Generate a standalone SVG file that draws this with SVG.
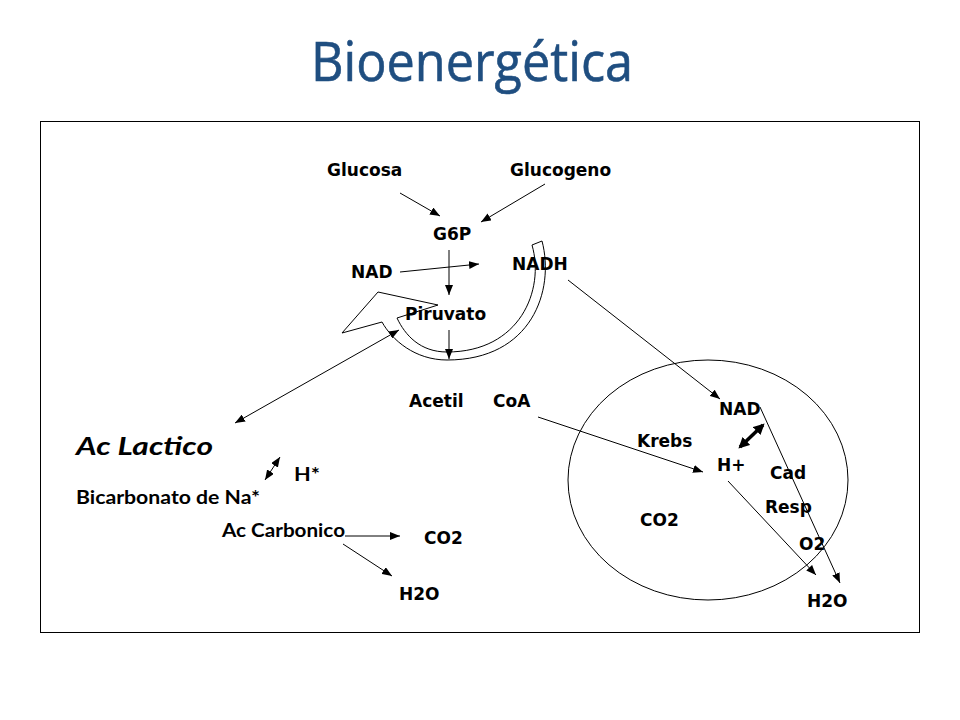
<svg xmlns="http://www.w3.org/2000/svg" width="960" height="720" viewBox="0 0 960 720">
<defs>
<marker id="a" viewBox="0 0 10 8" refX="10" refY="4" markerWidth="10" markerHeight="8" markerUnits="userSpaceOnUse" orient="auto-start-reverse"><path d="M0,0 L10,4 L0,8 Z" fill="#000"/></marker>
<marker id="b" viewBox="0 0 10 10" refX="8" refY="5" markerWidth="11" markerHeight="11" markerUnits="userSpaceOnUse" orient="auto-start-reverse"><path d="M0,0 L10,5 L0,10 Z" fill="#000"/></marker>
<style>
.v{font-family:"DejaVu Sans",Verdana,sans-serif;font-weight:bold;font-size:17px;fill:#000}
.c{font-family:Lato,"Open Sans",sans-serif;font-weight:bold;font-size:19px;fill:#000}
.l{stroke:#000;stroke-width:1;fill:none;marker-end:url(#a)}
.d{marker-start:url(#a)}
</style>
</defs>
<rect width="960" height="720" fill="#fff"/>
<text x="472" y="81" text-anchor="middle" font-family="'Open Sans',Lato,sans-serif" font-size="55" fill="#1F4E80" stroke="#1F4E80" stroke-width="0.6" textLength="322" lengthAdjust="spacingAndGlyphs">Bioenergética</text>
<rect x="40.5" y="121.5" width="879" height="511" fill="none" stroke="#000" stroke-width="1"/>
<g id="mito"><ellipse cx="708" cy="480" rx="140" ry="120" fill="none" stroke="#000" stroke-width="1"/></g>
<g id="curved-arrow"><path d="M342,333 L378,292 L438,305 L397,318 C405,335 420,352 447,352 C520,352 545,290 532,245 L542,241 C555,290 532,360 447,360 C415,360 392,340 382,322 Z" fill="#fff" stroke="#000" stroke-width="1"/></g>
<g id="connectors">
<line class="l" x1="400" y1="193" x2="440" y2="216"/>
<line class="l" x1="545" y1="184" x2="481" y2="222"/>
<line class="l" x1="449" y1="250" x2="449" y2="295"/>
<line class="l" x1="400" y1="272" x2="479" y2="264"/>
<line class="l" x1="449" y1="330" x2="449" y2="359"/>
<line class="l d" x1="235" y1="423" x2="399" y2="330"/>
<line class="l" x1="568" y1="280" x2="720" y2="399"/>
<line class="l" x1="538" y1="417" x2="703" y2="472"/>
<line x1="740" y1="447" x2="763" y2="425" stroke="#000" stroke-width="3.5" marker-start="url(#b)" marker-end="url(#b)"/>
<line class="l" x1="760" y1="407" x2="840" y2="583"/>
<line class="l" x1="728" y1="481" x2="816" y2="575"/>
<line class="l d" x1="265" y1="480" x2="280" y2="457"/>
<line class="l" x1="345" y1="536" x2="400" y2="536"/>
<line class="l" x1="343" y1="544" x2="392" y2="576"/>
</g>
<g id="n-glucosa"><text class="v" x="327" y="176">Glucosa</text></g>
<g id="n-glucogeno"><text class="v" x="510" y="176">Glucogeno</text></g>
<g id="n-g6p"><text class="v" x="433" y="240">G6P</text></g>
<g id="n-nad1"><text class="v" x="351" y="278">NAD</text></g>
<g id="n-nadh"><text class="v" x="512" y="270">NADH</text></g>
<g id="n-piruvato"><text class="v" x="405" y="320">Piruvato</text></g>
<g id="n-acetil"><text class="v" x="409" y="407">Acetil</text></g>
<g id="n-coa"><text class="v" x="493" y="407">CoA</text></g>
<g id="n-nad2"><text class="v" x="719" y="415">NAD</text></g>
<g id="n-krebs"><text class="v" x="637" y="447">Krebs</text></g>
<g id="n-hplus"><text class="v" x="717" y="471">H+</text></g>
<g id="n-cad"><text class="v" x="770" y="479">Cad</text></g>
<g id="n-resp"><text class="v" x="765" y="513">Resp</text></g>
<g id="n-co2r"><text class="v" x="640" y="526">CO2</text></g>
<g id="n-o2"><text class="v" x="799" y="550">O2</text></g>
<g id="n-h2or"><text class="v" x="807" y="607">H2O</text></g>
<g id="n-co2l"><text class="v" x="424" y="544">CO2</text></g>
<g id="n-h2ol"><text class="v" x="399" y="600">H2O</text></g>
<g id="n-aclactico"><text x="76" y="455" font-family="Lato,'Open Sans',sans-serif" font-weight="bold" font-style="italic" font-size="25" textLength="137" lengthAdjust="spacingAndGlyphs">Ac Lactico</text></g>
<g id="n-hstar"><text class="c" x="294" y="481" textLength="26" lengthAdjust="spacingAndGlyphs">H*</text></g>
<g id="n-bicarb"><text class="c" x="76" y="504" textLength="184" lengthAdjust="spacingAndGlyphs">Bicarbonato de Na*</text></g>
<g id="n-accarb"><text class="c" x="222" y="537" textLength="123" lengthAdjust="spacingAndGlyphs">Ac Carbonico</text></g>
</svg>
